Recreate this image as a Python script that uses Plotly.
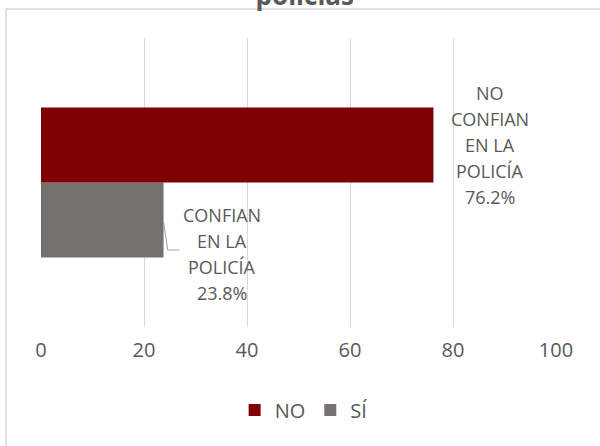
import plotly.graph_objects as go

category = ["Confianza"]
series_names = ["NO", "SÍ"]
series_values = [76.2, 23.8]
series_colors = ["#7f0000", "#767171"]
label_lines = [["NO", "CONFIAN", "EN LA", "POLICÍA"], ["CONFIAN", "EN LA", "POLICÍA"]]
x_ticks = [0, 20, 40, 60, 80, 100]
title_text = "policías"

FONT = "Open Sans"
TXT = "#595959"

fig = go.Figure()
# Plotly places grouped horizontal bars bottom-up, so add SÍ first (bottom) then NO (top)
for i in [1, 0]:
    fig.add_trace(go.Bar(
        y=category, x=[series_values[i]], name=series_names[i], orientation="h",
        marker=dict(color=series_colors[i], line=dict(width=0)),
        legendrank=i + 1, hoverinfo="skip",
    ))

# Plot area geometry
L, R, T, B = 41, 44, 38, 119
W, H = 600, 446
pw, ph = W - L - R, H - T - B

def px_to_paper_y(py):
    return (H - B - py) / ph

def px_to_paper_x(px):
    return (px - L) / pw

LINE_GAP = 26  # px between label lines

def add_label(value, dx, center_py, lines):
    n = len(lines)
    for k, t in enumerate(lines):
        py = center_py + (k - (n - 1) / 2) * LINE_GAP
        fig.add_annotation(x=value + dx, y=px_to_paper_y(py), xref="x", yref="paper",
                           text=t, showarrow=False,
                           font=dict(family=FONT, size=18, color=TXT),
                           xanchor="center", yanchor="middle")

add_label(series_values[0], 11.0, 145, label_lines[0] + [f"{series_values[0]:.1f}%"])
add_label(series_values[1], 11.3, 254, label_lines[1] + [f"{series_values[1]:.1f}%"])

# leader line for the SÍ label
v = series_values[1]
fig.add_shape(type="path", xref="x", yref="paper",
              path=f"M {v} {px_to_paper_y(222)} L {v + 0.8} {px_to_paper_y(250)} L {v + 3.1} {px_to_paper_y(250)}",
              line=dict(color="#a6a6a6", width=1.2))

# chart frame (cropped)
fig.add_shape(type="rect", xref="paper", yref="paper",
              x0=px_to_paper_x(6), x1=px_to_paper_x(620),
              y0=px_to_paper_y(470), y1=px_to_paper_y(9),
              line=dict(color="#d9d9d9", width=1.5), layer="below")

fig.update_layout(
    width=W, height=H,
    margin=dict(l=L, r=R, t=T, b=B, pad=0),
    paper_bgcolor="white", plot_bgcolor="white",
    barmode="group", bargap=0.481, bargroupgap=0,
    font=dict(family=FONT, color=TXT),
    title=dict(text=f"<b>{title_text}</b>", font=dict(family=FONT, size=26, color=TXT),
               xref="container", x=0.508, xanchor="center",
               yref="container", y=1 - 5 / H, yanchor="bottom"),
    xaxis=dict(range=[0, 100], tickvals=x_ticks, showgrid=True, gridcolor="#d9d9d9",
               gridwidth=1.3, zeroline=False, showline=False, ticks="",
               tickfont=dict(family=FONT, size=20, color=TXT), ticklabelstandoff=9),
    yaxis=dict(showticklabels=False, showgrid=False, zeroline=False, showline=False,
               range=[-0.5, 0.5]),
    legend=dict(orientation="h", x=0.51, xanchor="center", y=px_to_paper_y(410),
                yanchor="middle", font=dict(family=FONT, size=20, color=TXT),
                itemwidth=30, traceorder="normal"),
    showlegend=True,
)

fig.write_html("out.html", config={"displayModeBar": False},
               post_script="document.body.style.margin='0px';document.body.style.overflow='hidden';")
